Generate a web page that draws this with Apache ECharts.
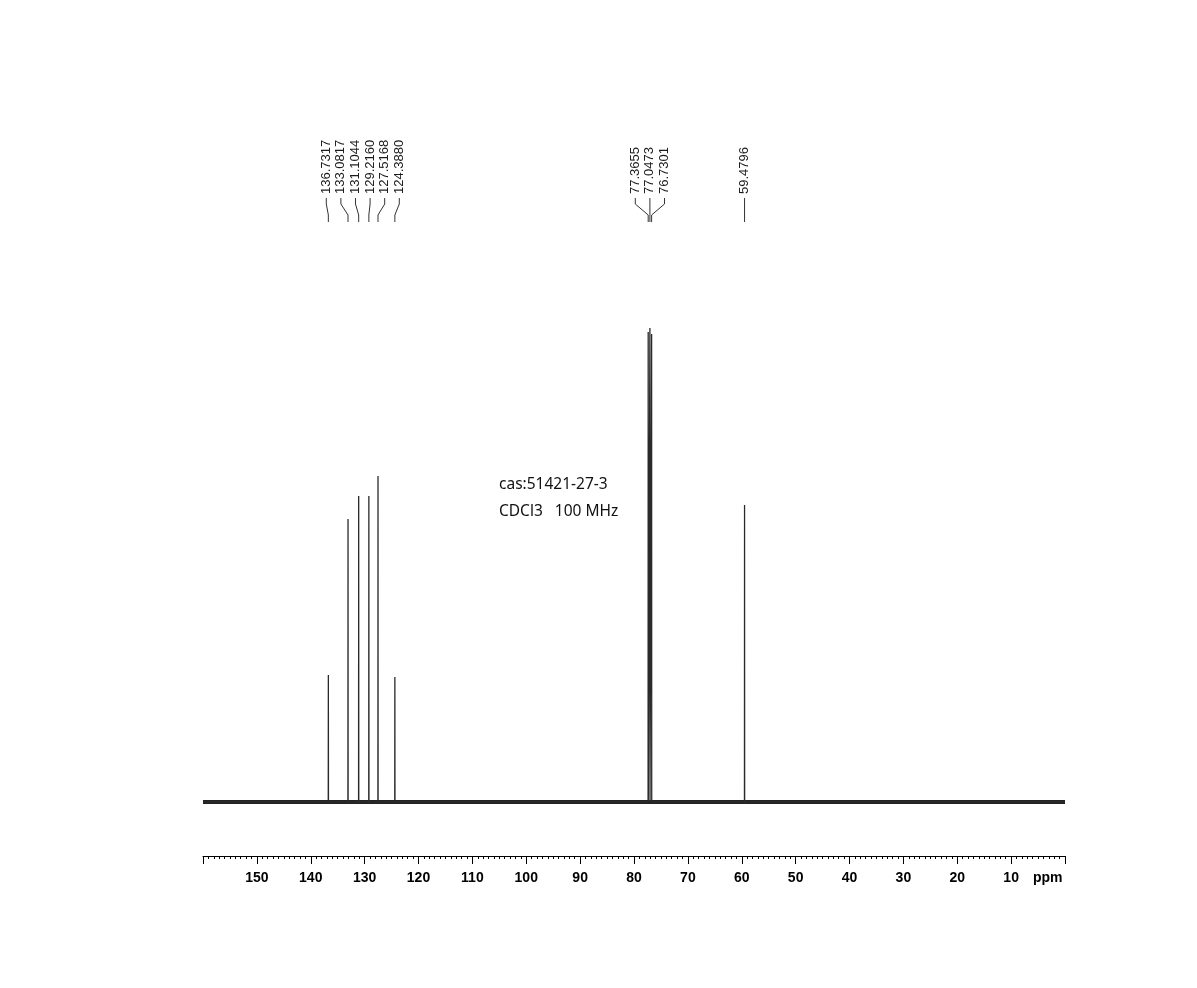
<!DOCTYPE html>
<html>
<head>
<meta charset="utf-8">
<script src="https://cdn.jsdelivr.net/npm/echarts@6/dist/echarts.min.js"></script>
<style>
html,body{margin:0;padding:0;background:#fff;}
#chart{width:1197px;height:988px;}
</style>
</head>
<body>
<div id="chart"></div>
<script>
// ---- data ----
const peakPpm    = [136.7317, 133.0817, 131.1044, 129.2160, 127.5168, 124.3880, 77.3655, 77.0473, 76.7301, 59.4796];
const peakHeight = [127, 283, 306, 306, 326, 125, 470, 474, 468, 297];
const peakLabels = ['136.7317','133.0817','131.1044','129.2160','127.5168','124.3880','77.3655','77.0473','76.7301','59.4796'];
const labelGroup = [0, 0, 0, 0, 0, 0, 1, 1, 1, 2];
const xTickLabels = [150, 140, 130, 120, 110, 100, 90, 80, 70, 60, 50, 40, 30, 20, 10];
const axisUnit = 'ppm';
const infoLines = ['cas:51421-27-3', 'CDCl3   100 MHz'];
const ppmRange = [0, 160];

// ---- build spectrum polyline from peak list ----
const halfWidth = 0.02;
const order = peakPpm.map((p, i) => i).sort((a, b) => peakPpm[b] - peakPpm[a]);
const spectrum = [[ppmRange[1], 0]];
order.forEach(i => {
  spectrum.push([peakPpm[i] + halfWidth, 0]);
  spectrum.push([peakPpm[i], peakHeight[i]]);
  spectrum.push([peakPpm[i] - halfWidth, 0]);
});
spectrum.push([ppmRange[0], 0]);
const baseline = [[ppmRange[1], 0], [ppmRange[0], 0]];

const chart = echarts.init(document.getElementById('chart'), null, {renderer: 'canvas'});

const labelSpacing = 14.6;
function renderLabel(params, api) {
  const i = params.dataIndex;
  const g = labelGroup[i];
  const members = [];
  for (let j = 0; j < peakPpm.length; j++) if (labelGroup[j] === g) members.push(j);
  let mean = 0;
  members.forEach(j => { mean += api.coord([peakPpm[j], 0])[0]; });
  mean /= members.length;
  const k = members.indexOf(i);
  const lx = mean + (k - (members.length - 1) / 2) * labelSpacing;
  const px = api.coord([peakPpm[i], 0])[0];
  return {
    type: 'group',
    children: [
      {
        type: 'text',
        x: lx, y: 194,
        rotation: Math.PI / 2,
        style: {
          text: peakLabels[i],
          x: 0, y: 0,
          align: 'left', verticalAlign: 'middle',
          font: '13px "Liberation Sans", Arial, sans-serif',
          fill: '#1a1a1a'
        }
      },
      {
        type: 'polyline',
        shape: { points: [[lx, 198], [lx, 204], [px, 215], [px, 222]] },
        style: { stroke: '#333', lineWidth: 1, fill: null }
      }
    ]
  };
}

chart.setOption({
  animation: false,
  backgroundColor: '#fff',
  grid: { left: 203, right: 132, top: 302, bottom: 132 },
  xAxis: {
    type: 'value',
    min: ppmRange[0], max: ppmRange[1], interval: 10,
    inverse: true,
    splitLine: { show: false },
    axisLine: { onZero: false, lineStyle: { color: '#000', width: 1 } },
    axisTick: { show: true, length: 8, lineStyle: { color: '#000', width: 1 } },
    minorTick: { show: true, splitNumber: 10, length: 3, lineStyle: { color: '#000', width: 1 } },
    axisLabel: {
      margin: 15,
      color: '#000',
      fontSize: 14,
      fontWeight: 'bold',
      fontFamily: '"Liberation Sans", Arial, sans-serif',
      showMinLabel: true, showMaxLabel: true,
      formatter: v => xTickLabels.indexOf(v) >= 0 ? String(v) : ''
    }
  },
  yAxis: { type: 'value', min: -54, max: 500, show: false, splitLine: { show: false } },
  series: [
    {
      type: 'line', data: baseline, showSymbol: false, silent: true,
      lineStyle: { color: '#222', width: 4 }
    },
    {
      type: 'line', data: spectrum, showSymbol: false, silent: true,
      lineStyle: { color: '#2a2a2a', width: 1.3 }
    },
    {
      type: 'custom', coordinateSystem: 'cartesian2d', clip: false, silent: true,
      data: peakPpm.map((p, i) => [p, peakHeight[i]]),
      renderItem: renderLabel
    }
  ],
  graphic: [
    {
      type: 'text', left: 1033, top: 871,
      style: { text: axisUnit, font: 'bold 14px "Liberation Sans", Arial, sans-serif', fill: '#000' }
    },
    {
      type: 'text', left: 499, top: 477,
      style: { text: infoLines[0], font: '15.5px "Noto Sans", sans-serif', fill: '#111' }
    },
    {
      type: 'text', left: 499, top: 504,
      style: { text: infoLines[1], font: '15.5px "Noto Sans", sans-serif', fill: '#111' }
    }
  ]
});
</script>
</body>
</html>
